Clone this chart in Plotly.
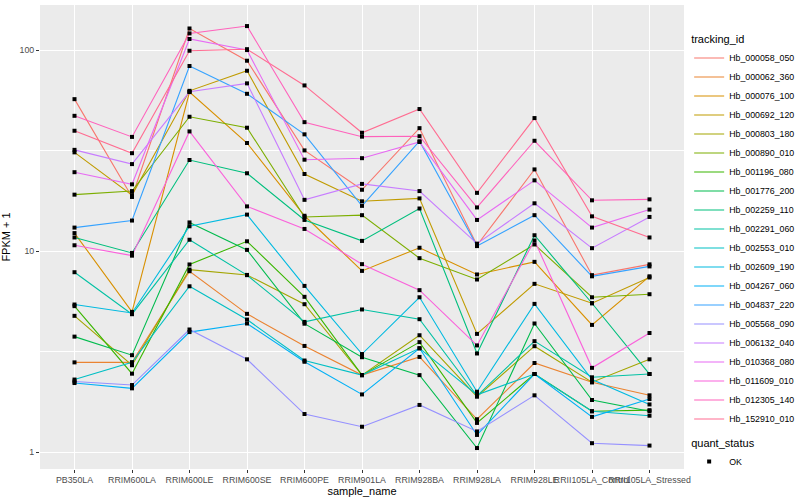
import plotly.graph_objects as go

samples = ["PB350LA", "RRIM600LA", "RRIM600LE", "RRIM600SE", "RRIM600PE", "RRIM901LA",
           "RRIM928BA", "RRIM928LA", "RRIM928LE", "RRII105LA_Control", "RRII105LA_Stressed"]

tracking_ids = ["Hb_000058_050", "Hb_000062_360", "Hb_000076_100", "Hb_000692_120", "Hb_000803_180",
                "Hb_000890_010", "Hb_001196_080", "Hb_001776_200", "Hb_002259_110", "Hb_002291_060",
                "Hb_002553_010", "Hb_002609_190", "Hb_004267_060", "Hb_004837_220", "Hb_005568_090",
                "Hb_006132_040", "Hb_010368_080", "Hb_011609_010", "Hb_012305_140", "Hb_152910_010"]

# FPKM + 1 per sample
hb_000058_050 = [57, 18.6, 128, 88.5, 31.7, 20.2, 40.9, 10.7, 25.5, 7.6, 8.6]
hb_000062_360 = [2.80, 2.80, 7.95, 4.88, 3.38, 2.42, 2.98, 1.46, 2.78, 2.23, 1.92]
hb_000076_100 = [12.3, 4.99, 61.8, 34.5, 15.0, 7.98, 10.4, 7.66, 8.85, 4.30, 7.5]
hb_000692_120 = [31.0, 19.0, 62.7, 78.9, 24.2, 17.7, 18.3, 3.88, 6.88, 5.51, 7.4]
hb_000803_180 = [4.77, 2.71, 8.10, 7.62, 5.45, 2.42, 3.82, 1.89, 3.37, 2.23, 2.90]
hb_000890_010 = [19.1, 19.9, 46.6, 41.1, 14.8, 15.1, 9.23, 7.23, 10.8, 5.9, 6.11]
hb_001196_080 = [5.33, 2.46, 8.59, 11.2, 5.93, 2.42, 3.53, 1.40, 2.45, 1.60, 1.62]
hb_001776_200 = [3.76, 3.04, 13.9, 10.15, 4.36, 2.97, 2.42, 1.05, 4.37, 1.82, 1.60]
hb_002259_110 = [11.7, 9.8, 28.4, 24.4, 14.3, 11.25, 16.3, 3.10, 12.0, 5.51, 2.45]
hb_002291_060 = [7.86, 4.86, 11.4, 7.6, 4.45, 5.13, 4.59, 1.91, 3.57, 2.36, 2.45]
hb_002553_010 = [2.30, 2.80, 6.69, 4.57, 2.86, 2.42, 3.29, 1.93, 2.45, 1.60, 1.52]
hb_002609_190 = [5.43, 4.93, 13.3, 15.2, 6.72, 3.08, 5.9, 2.0, 5.47, 2.30, 1.73]
hb_004267_060 = [2.21, 2.08, 3.96, 4.37, 2.82, 1.94, 3.29, 1.22, 2.45, 1.50, 1.84]
hb_004837_220 = [13.1, 14.2, 83.3, 60.6, 38.1, 16.8, 35.2, 10.6, 15.1, 7.5, 8.4]
hb_005568_090 = [2.25, 2.16, 4.08, 2.90, 1.55, 1.34, 1.72, 1.27, 1.92, 1.11, 1.08]
hb_006132_040 = [31.9, 27.1, 62.0, 68.3, 18.0, 21.6, 19.9, 10.9, 17.3, 10.35, 14.8]
hb_010368_080 = [24.7, 21.5, 113.5, 100, 28.5, 29.0, 34.9, 14.3, 22.5, 13.1, 16.1]
hb_011609_010 = [10.7, 9.5, 39.4, 16.7, 12.9, 8.62, 6.4, 3.40, 11.3, 2.63, 3.92]
hb_012305_140 = [47.1, 37.0, 121, 131.6, 43.8, 37.1, 37.3, 16.5, 35.4, 17.9, 18.1]
hb_152910_010 = [39.7, 30.7, 99.2, 101, 66.7, 38.8, 50.9, 19.5, 45.9, 14.9, 11.7]

series_values = [hb_000058_050, hb_000062_360, hb_000076_100, hb_000692_120, hb_000803_180,
                 hb_000890_010, hb_001196_080, hb_001776_200, hb_002259_110, hb_002291_060,
                 hb_002553_010, hb_002609_190, hb_004267_060, hb_004837_220, hb_005568_090,
                 hb_006132_040, hb_010368_080, hb_011609_010, hb_012305_140, hb_152910_010]

colors = ["#F8766D", "#EA8331", "#D89000", "#C09B00", "#A3A500", "#7CAE00", "#39B600", "#00BB4E",
          "#00BF7D", "#00C1A3", "#00BFC4", "#00BAE0", "#00B0F6", "#35A2FF", "#9590FF", "#C77CFF",
          "#E76BF3", "#FA62DB", "#FF62BC", "#FF6C91"]

FONT = "Liberation Sans, Arial, Helvetica, sans-serif"

fig = go.Figure()
for tid, vals, col in zip(tracking_ids, series_values, colors):
    fig.add_trace(go.Scatter(x=samples, y=vals, mode="lines", name=tid,
                             line=dict(color=col, width=1.1), legend="legend"))

all_x, all_y = [], []
for vals in series_values:
    all_x += samples
    all_y += vals
fig.add_trace(go.Scatter(x=all_x, y=all_y, mode="markers", name="OK", legend="legend2",
                         marker=dict(symbol="square", size=4, color="black", line=dict(width=0))))

fig.update_layout(
    width=800, height=500,
    margin=dict(l=40, r=116, t=5, b=31, autoexpand=False),
    paper_bgcolor="white", plot_bgcolor="#EBEBEB",
    font=dict(family=FONT, size=9, color="#4D4D4D"),
    legend=dict(title=dict(text="tracking_id", font=dict(size=11, color="black")),
                x=1.008, xanchor="left", y=0.948, yanchor="top",
                font=dict(size=8.8, color="black"), itemwidth=30, bgcolor="rgba(0,0,0,0)",
                borderwidth=0),
    legend2=dict(title=dict(text="quant_status", font=dict(size=11, color="black")),
                 x=1.008, xanchor="left", y=0.078, yanchor="top",
                 font=dict(size=8.8, color="black"), itemwidth=30, bgcolor="rgba(0,0,0,0)",
                 borderwidth=0),
    xaxis=dict(type="category", categoryorder="array", categoryarray=samples,
               range=[-0.6, 10.6], showgrid=True, gridcolor="white", gridwidth=1.1,
               zeroline=False, showline=False, ticks="outside", ticklen=3, tickcolor="#333333",
               tickangle=0, tickfont=dict(size=8.8, color="#4D4D4D"), ticklabelstandoff=-1,
               title=dict(text="sample_name", font=dict(size=11, color="black"), standoff=2)),
    yaxis=dict(type="log", range=[-0.083, 2.224], tickvals=[1, 10, 100], ticktext=["1", "10", "100"],
               showgrid=True, gridcolor="white", gridwidth=1.1, zeroline=False, showline=False,
               ticks="outside", ticklen=3, tickcolor="#333333",
               tickfont=dict(size=8.8, color="#4D4D4D"),
               minor=dict(tickvals=[3.1623, 31.623], showgrid=True, gridcolor="white", gridwidth=0.5, ticks=""),
               title=dict(text="FPKM + 1", font=dict(size=11, color="black"), standoff=6)),
)

fig.write_html("out.html", config={"displayModeBar": False},
               post_script="document.body.style.margin='0';document.body.style.overflow='hidden';")
